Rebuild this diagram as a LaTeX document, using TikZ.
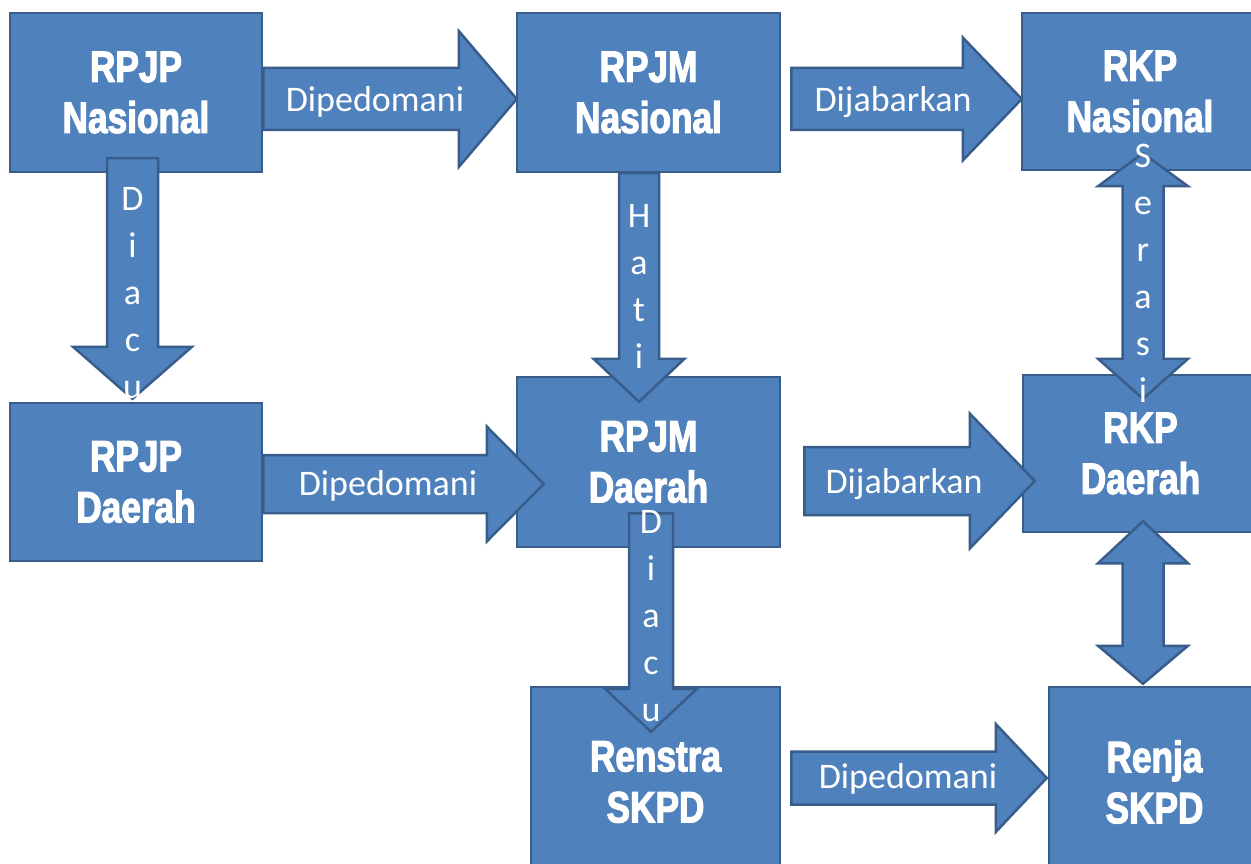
\documentclass[tikz,border=0pt]{standalone}
\usepackage{fontspec}
\usetikzlibrary{calc}
\newfontfamily\boxfont[FakeStretch=0.8, BoldFeatures={FakeBold=2.5}]{Liberation Sans}
\newfontfamily\lblfont{Carlito}
\definecolor{boxblue}{HTML}{4F81BD}
\definecolor{boxedge}{HTML}{385D8A}
\tikzset{
  box/.style={draw=boxedge, fill=boxblue, line width=2.5pt, text=white, align=center,
    font=\boxfont\bfseries\fontsize{44}{51}\selectfont, inner sep=0pt},
  blockarrow/.style={draw=boxedge, fill=boxblue, line width=2.5pt, line join=miter},
  lbl/.style={text=white, font=\lblfont\fontsize{36}{47}\selectfont, inner sep=0pt},
  vlbl/.style={lbl, align=center, anchor=north},
}
% right-pointing block arrow: start, tip, shaft half, head half, head length
\newcommand\rightblock[5]{%
  \draw[blockarrow] let \p1=(#1), \p2=(#2) in
    (\x1,\y1+#3) -- (\x2-#5,\y1+#3) -- (\x2-#5,\y1+#4) -- (\x2,\y1)
    -- (\x2-#5,\y1-#4) -- (\x2-#5,\y1-#3) -- (\x1,\y1-#3) -- cycle;}
% down-pointing block arrow
\newcommand\downblock[5]{%
  \draw[blockarrow] let \p1=(#1), \p2=(#2) in
    (\x1-#3,\y1) -- (\x1-#3,\y2+#5) -- (\x1-#4,\y2+#5) -- (\x1,\y2)
    -- (\x1+#4,\y2+#5) -- (\x1+#3,\y2+#5) -- (\x1+#3,\y1) -- cycle;}
% vertical double block arrow: top tip, bottom tip, shaft half, head half, top head len, bottom head len
\newcommand\updownblock[6]{%
  \draw[blockarrow] let \p1=(#1), \p2=(#2) in
    (\x1,\y1) -- (\x1+#4,\y1-#5) -- (\x1+#3,\y1-#5) -- (\x1+#3,\y2+#6)
    -- (\x1+#4,\y2+#6) -- (\x1,\y2) -- (\x1-#4,\y2+#6) -- (\x1-#3,\y2+#6)
    -- (\x1-#3,\y1-#5) -- (\x1-#4,\y1-#5) -- cycle;}
\begin{document}
\begin{tikzpicture}[x=1pt,y=-1pt]
\useasboundingbox (0,0) rectangle (1251,864);
\fill[white] (0,0) rectangle (1251,864);
\clip (0,0) rectangle (1251,864);
% boxes
\node[box, minimum width=252pt, minimum height=159pt] (rpjpn) at (136,92.5) {RPJP\\Nasional};
\node[box, minimum width=263pt, minimum height=159pt] (rpjmn) at (648.5,92.5) {RPJM\\Nasional};
\node[box, minimum width=236pt, minimum height=157pt] (rkpn) at (1140,91.5) {RKP\\Nasional};
\node[box, minimum width=252pt, minimum height=158pt] (rpjpd) at (136,482) {RPJP\\Daerah};
\node[box, minimum width=263pt, minimum height=170pt] (rpjmd) at (648.5,462) {RPJM\\Daerah};
\node[box, minimum width=235pt, minimum height=157pt] (rkpd) at (1140.5,453.5) {RKP\\Daerah};
\node[box, minimum width=249pt, minimum height=190pt] (renstra) at (655.5,782) {Renstra\\SKPD};
\node[box, minimum width=211pt, minimum height=190pt] (renja) at (1154.5,782) {Renja\\SKPD};
% arrow end points
\coordinate (a1s) at ($(rpjpn.east)+(0,6.5)$);
\coordinate (a1t) at ($(rpjmn.west)+(1,6.5)$);
\coordinate (a2s) at ($(rpjmn.east)+(10,6.5)$);
\coordinate (a2t) at ($(rkpn.west)+(1,6.5)$);
\coordinate (a3s) at ($(rpjpd.east)+(0,2)$);
\coordinate (a3t) at ($(rpjmd.west)+(28,22)$);
\coordinate (a4s) at ($(rpjmd.east)+(23,19)$);
\coordinate (a4t) at ($(rkpd.west)+(13,27.5)$);
\coordinate (a5s) at ($(renstra.east)+(10,-4)$);
\coordinate (a5t) at ($(renja.west)+(-1,-4)$);
\coordinate (d1s) at ($(rpjpn.south)+(-3.5,-15)$);
\coordinate (d1t) at ($(rpjpd.north)+(-3.5,-3)$);
\coordinate (d2s) at ($(rpjmn.south)+(-9.5,0)$);
\coordinate (d2t) at ($(rpjmd.north)+(-9.5,26)$);
\coordinate (d3s) at ($(rpjmd.south)+(2.5,-35)$);
\coordinate (d3t) at ($(renstra.north)+(-4.5,46)$);
\coordinate (s1t) at ($(rkpn.south)+(3,-18)$);
\coordinate (s1b) at ($(rkpd.north)+(2.5,25)$);
\coordinate (s2t) at ($(rkpd.south)+(2.5,-12)$);
\coordinate (s2b) at ($(renja.north)+(-11.5,-2)$);
% arrows
\rightblock{a1s}{a1t}{31pt}{68pt}{58pt}
\rightblock{a2s}{a2t}{31pt}{61.5pt}{59pt}
\rightblock{a3s}{a3t}{29pt}{57.5pt}{57pt}
\rightblock{a4s}{a4t}{34pt}{67.5pt}{65pt}
\rightblock{a5s}{a5t}{26.5pt}{54pt}{51pt}
\downblock{d1s}{d1t}{25.5pt}{59.5pt}{52pt}
\downblock{d2s}{d2t}{20pt}{45.5pt}{43pt}
\downblock{d3s}{d3t}{22pt}{46pt}{43pt}
\updownblock{s1t}{s1b}{20.5pt}{45pt}{33pt}{40pt}
\updownblock{s2t}{s2b}{20.5pt}{45pt}{42pt}{38pt}
% labels
\node[lbl, anchor=base] (l1) at (375,112) {Dipedomani};
\node[lbl, anchor=base] (l2) at (893,112) {Dijabarkan};
\node[lbl, anchor=base] (l3) at (388,495) {Dipedomani};
\node[lbl, anchor=base] (l4) at (904,493) {Dijabarkan};
\node[lbl, anchor=base] (l5) at (908,788) {Dipedomani};
\node[vlbl] (v1) at (132.5,187) {D\\i\\a\\c\\u};
\node[vlbl] (v2) at (639,204) {H\\a\\t\\i};
\node[vlbl] (v3) at (651,510) {D\\i\\a\\c\\u};
\node[vlbl] (v4) at (1143,144) {S\\e\\r\\a\\s\\i};
\end{tikzpicture}
\end{document}
